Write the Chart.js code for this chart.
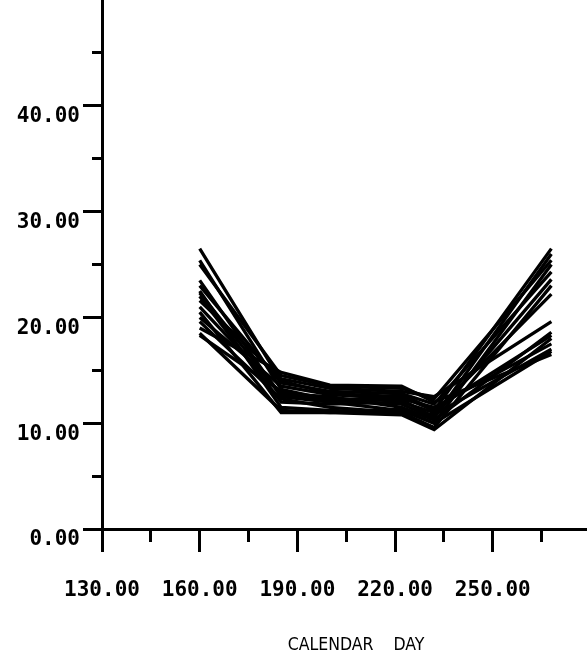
<!DOCTYPE html>
<html>
<head>
<meta charset="utf-8">
<script src="https://cdn.jsdelivr.net/npm/chart.js@4"></script>
<style>
  html, body { margin: 0; padding: 0; background: #fff; overflow: hidden; }
  canvas { display: block; }
</style>
</head>
<body>
<canvas id="plot" width="610" height="658"></canvas>
<script>
// Sampling days along the x axis
const days = [160, 185, 200, 222, 232, 268];

// One profile per sampled site
const site01 = [26.5, 14.0, 12.8, 12.5, 11.2, 26.5];
const site02 = [25.4, 13.2, 12.2, 11.8, 10.5, 26.0];
const site03 = [25.0, 14.5, 13.5, 13.3, 12.3, 25.4];
const site04 = [23.5, 12.5, 12.0, 11.2, 10.0, 25.0];
const site05 = [23.0, 13.8, 13.0, 12.8, 11.8, 24.3];
const site06 = [22.5, 11.5, 11.2, 11.0, 9.6, 23.0];
const site07 = [22.0, 12.0, 11.8, 12.0, 11.0, 22.2];
const site08 = [21.6, 14.2, 13.3, 13.0, 12.5, 19.6];
const site09 = [21.0, 12.8, 12.5, 11.5, 10.3, 18.6];
const site10 = [20.5, 11.0, 11.0, 10.8, 9.4, 18.0];
const site11 = [20.0, 13.5, 12.7, 12.3, 11.5, 17.5];
const site12 = [19.6, 12.3, 11.5, 11.0, 10.8, 17.0];
const site13 = [19.0, 14.8, 13.6, 13.5, 12.0, 16.5];
const site14 = [18.5, 11.2, 11.0, 11.3, 10.0, 16.8];
const site15 = [18.3, 13.0, 12.0, 12.7, 11.3, 18.3];
const site16 = [22.3, 12.7, 12.3, 12.2, 10.6, 23.6];

const sites = [site01, site02, site03, site04, site05, site06, site07, site08,
               site09, site10, site11, site12, site13, site14, site15, site16];

// Axis ticks
const xMajorTicks = [130, 160, 190, 220, 250, 280];
const xMinorTicks = [145, 175, 205, 235, 265];
const xTickLabels = ['130.00', '160.00', '190.00', '220.00', '250.00'];
const yMajorTicks = [0, 10, 20, 30, 40];
const yMinorTicks = [5, 15, 25, 35, 45];
const yTickLabels = ['0.00', '10.00', '20.00', '30.00', '40.00'];

const tickFont = { family: "'DejaVu Sans Mono', monospace", weight: 'bold', size: 21 };

// Keep the plot area flush with the canvas edges (no room reserved for overhanging labels)
function noOverhang(s) {
  s.paddingTop = 0;
  s.paddingBottom = 0;
  s.paddingLeft = 0;
  s.paddingRight = 0;
}

const datasets = sites.map(vals => ({
  data: days.map((d, i) => ({ x: d, y: vals[i] })),
  borderColor: '#000',
  borderWidth: 3.3,
  pointRadius: 0,
  tension: 0,
  fill: false,
  xAxisID: 'x',
  yAxisID: 'y'
}));

new Chart(document.getElementById('plot'), {
  type: 'line',
  data: { datasets },
  options: {
    responsive: false,
    animation: false,
    events: [],
    layout: { padding: 0 },
    plugins: { legend: { display: false }, tooltip: { enabled: false } },
    scales: {
      x: {
        type: 'linear',
        position: 'bottom',
        weight: 1,
        min: 130,
        max: 286,
        afterBuildTicks: s => { s.ticks = xMajorTicks.map(v => ({ value: v })); },
        afterFit: s => { s.height = 129; noOverhang(s); },
        ticks: {
          color: '#000',
          font: tickFont,
          padding: 26,
          maxRotation: 0,
          autoSkip: false,
          callback: v => {
            const i = xMajorTicks.indexOf(v);
            return i >= 0 && i < xTickLabels.length ? xTickLabels[i] : '';
          }
        },
        grid: { drawOnChartArea: false, tickLength: 23, tickWidth: 3, tickColor: '#000' },
        border: { display: true, color: '#000', width: 3 },
        title: {
          display: true,
          text: 'CALENDAR    DAY',
          color: '#000',
          font: { family: "'Liberation Sans Narrow', 'DejaVu Sans Condensed', sans-serif", size: 17.5 },
          padding: { top: 0, bottom: 2 }
        }
      },
      xMinor: {
        type: 'linear',
        position: 'bottom',
        weight: 0,
        min: 130,
        max: 286,
        afterBuildTicks: s => { s.ticks = xMinorTicks.map(v => ({ value: v })); },
        afterFit: s => { s.height = 0; noOverhang(s); },
        ticks: { display: false },
        grid: { drawOnChartArea: false, tickLength: 13, tickWidth: 3, tickColor: '#000' },
        border: { display: false }
      },
      y: {
        type: 'linear',
        position: 'left',
        weight: 1,
        min: 0,
        max: 50,
        afterBuildTicks: s => { s.ticks = yMajorTicks.map(v => ({ value: v })); },
        afterFit: s => { s.width = 102; noOverhang(s); },
        ticks: {
          color: '#000',
          font: tickFont,
          padding: 3,
          labelOffset: 11,
          callback: v => {
            const i = yMajorTicks.indexOf(v);
            return i >= 0 ? yTickLabels[i] : '';
          }
        },
        grid: { drawOnChartArea: false, tickLength: 19, tickWidth: 3, tickColor: '#000' },
        border: { display: true, color: '#000', width: 3 }
      },
      yMinor: {
        type: 'linear',
        position: 'left',
        weight: 0,
        min: 0,
        max: 50,
        afterBuildTicks: s => { s.ticks = yMinorTicks.map(v => ({ value: v })); },
        afterFit: s => { s.width = 0; noOverhang(s); },
        ticks: { display: false },
        grid: { drawOnChartArea: false, tickLength: 10, tickWidth: 3, tickColor: '#000' },
        border: { display: false }
      }
    }
  }
});
</script>
</body>
</html>
